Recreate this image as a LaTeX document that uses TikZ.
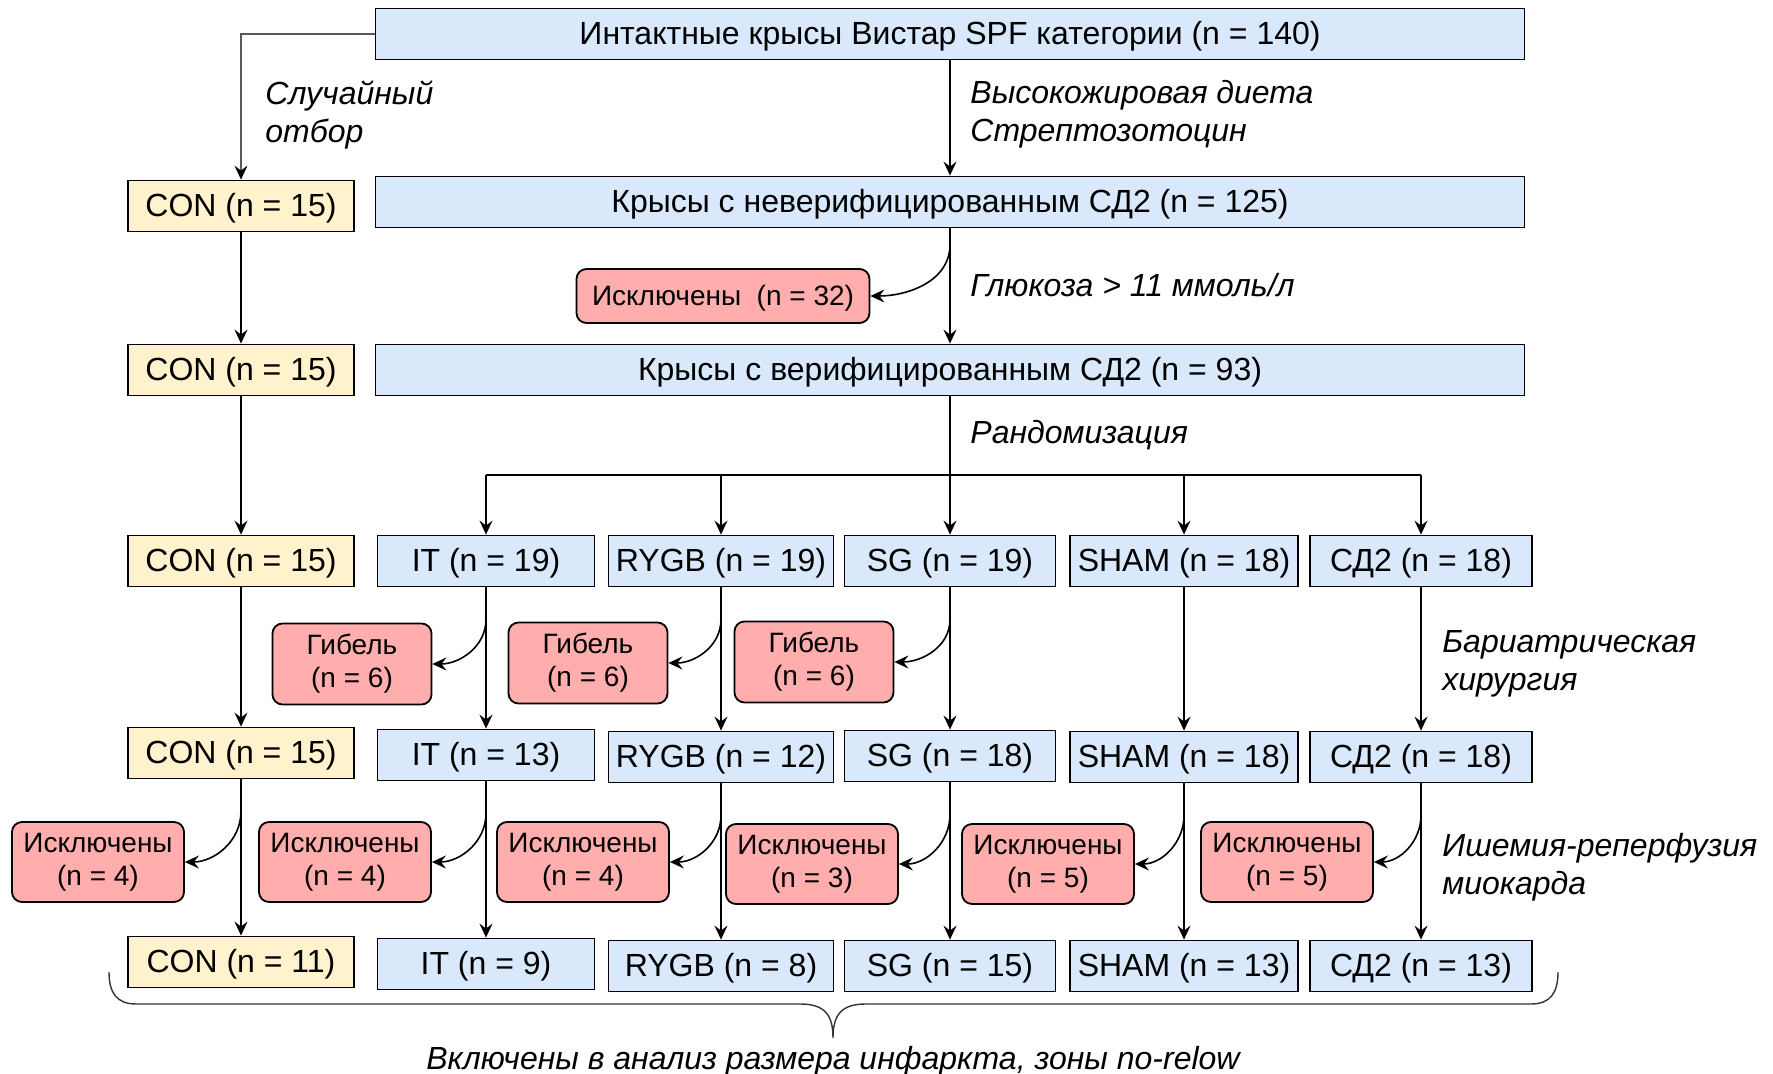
\documentclass[tikz,border=0pt]{standalone}
\usepackage{fontspec}
\setmainfont{Liberation Sans}
\usetikzlibrary{arrows.meta,calc}
\definecolor{bfill}{HTML}{DAE8FC}
\definecolor{yfill}{HTML}{FFF2CC}
\definecolor{rfill}{HTML}{FFADAD}
\begin{document}
\begin{tikzpicture}[x=0.5pt,y=-0.5pt,
  base/.style={draw=black, line width=0.9pt, inner sep=0pt, align=center},
  bbox/.style={base, fill=bfill, minimum height=25.5pt, text height=13.5pt, text depth=3pt, font=\fontsize{16}{19}\selectfont},
  ybox/.style={base, fill=yfill, minimum height=25.5pt, minimum width=113pt, text height=13.5pt, text depth=3pt, font=\fontsize{16}{19}\selectfont},
  rbox/.style={base, fill=rfill, rounded corners=5pt, font=\fontsize{14}{16.5}\selectfont},
  ebox/.style={rbox, minimum width=86pt, minimum height=40pt},
  gbox/.style={rbox, minimum width=79.5pt, minimum height=40.5pt},
  arr/.style={line width=0.8pt, -{Stealth[length=7pt,width=6.5pt,inset=2.5pt]}},
  ln/.style={line width=0.8pt},
  lbl/.style={anchor=west, inner sep=0pt, align=left, font=\fontsize{16}{19}\selectfont\itshape}
]
\useasboundingbox (0,0) rectangle (1773,1074);

% top row
\node[bbox, minimum width=574.5pt] (top) at (950,34) {Интактные крысы Вистар SPF категории (n = 140)};
% row 2
\node[ybox] (con2) at (241,206) {CON (n = 15)};
\node[bbox, minimum width=574.5pt] (b2) at (950,202) {Крысы с неверифицированным СД2 (n = 125)};
\node[rbox, minimum width=146.5pt, minimum height=27pt, text height=12pt, text depth=2.6pt] (ex32) at (723,296) {Исключены\ \ (n = 32)};
% row 3
\node[ybox] (con3) at (241,370) {CON (n = 15)};
\node[bbox, minimum width=574.5pt] (b3) at (950,370) {Крысы с верифицированным СД2 (n = 93)};
% row 4
\node[ybox] (con4) at (241,561) {CON (n = 15)};
\node[bbox, minimum width=108.5pt] (it4) at (486,561) {IT (n = 19)};
\node[bbox, minimum width=112.5pt] (rygb4) at (721,561) {RYGB (n = 19)};
\node[bbox, minimum width=105.5pt] (sg4) at (950,561) {SG (n = 19)};
\node[bbox, minimum width=114pt] (sham4) at (1184,561) {SHAM (n = 18)};
\node[bbox, minimum width=111pt] (sd4) at (1421,561) {СД2 (n = 18)};
% deaths
\node[gbox] (g1) at (352,664) {Гибель\\(n = 6)};
\node[gbox] (g2) at (588,663) {Гибель\\(n = 6)};
\node[gbox] (g3) at (814,662) {Гибель\\(n = 6)};
% row 5
\node[ybox] (con5) at (241,753) {CON (n = 15)};
\node[bbox, minimum width=108.5pt] (it5) at (486,755) {IT (n = 13)};
\node[bbox, minimum width=112.5pt] (rygb5) at (721,757) {RYGB (n = 12)};
\node[bbox, minimum width=105.5pt] (sg5) at (950,756) {SG (n = 18)};
\node[bbox, minimum width=114pt] (sham5) at (1184,757) {SHAM (n = 18)};
\node[bbox, minimum width=111pt] (sd5) at (1421,757) {СД2 (n = 18)};
% exclusions
\node[ebox] (e0) at (98,862) {Исключены\\(n = 4)};
\node[ebox] (e1) at (345,862) {Исключены\\(n = 4)};
\node[ebox] (e2) at (583,862) {Исключены\\(n = 4)};
\node[ebox] (e3) at (812,864) {Исключены\\(n = 3)};
\node[ebox] (e4) at (1048,864) {Исключены\\(n = 5)};
\node[ebox] (e5) at (1287,862) {Исключены\\(n = 5)};
% row 6
\node[ybox] (con6) at (241,962) {CON (n = 11)};
\node[bbox, minimum width=108.5pt] (it6) at (486,964) {IT (n = 9)};
\node[bbox, minimum width=112.5pt] (rygb6) at (721,966) {RYGB (n = 8)};
\node[bbox, minimum width=105.5pt] (sg6) at (950,966) {SG (n = 15)};
\node[bbox, minimum width=114pt] (sham6) at (1184,966) {SHAM (n = 13)};
\node[bbox, minimum width=111pt] (sd6) at (1421,966) {СД2 (n = 13)};

% labels
\node[lbl] (l1) at (265,115) {Случайный\\отбор};
\node[lbl] (l2) at (970,114) {Высокожировая диета\\Стрептозотоцин};
\node[lbl] (l3) at (970,285) {Глюкоза > 11 ммоль/л};
\node[lbl] (l4) at (970,435) {Рандомизация};
\node[lbl] (l5) at (1442,664) {Бариатрическая\\хирургия};
\node[lbl] (l6) at (1442,867) {Ишемия-реперфузия\\миокарда};
\node[inner sep=0pt, font=\fontsize{16}{19}\selectfont\itshape] (l7) at (833,1061) {Включены в анализ размера инфаркта, зоны no-relow};

% connectors
\draw[line width=0.6pt, draw=black!65, -{Stealth[length=7pt,width=6.5pt,inset=2.5pt,black]}] (top.west) -| (con2.north);
\draw[arr] (top.south) -- (b2.north);
\draw[arr] (b2.south) -- (b3.north);
\draw[arr] ($(b2.south)+(0,16)$) to[out=-90,in=0] (ex32.east);

\draw[arr] (con2) -- (con3);
\draw[arr] (con3) -- (con4);
\draw[arr] (con4) -- (con5);
\draw[arr] (con5) -- (con6);

\coordinate (rj) at (950,475);
\draw[ln] (b3.south) -- (rj);
\draw[ln] (it4.north |- rj) -- (sd4.north |- rj);
\foreach \n in {it4,rygb4,sg4,sham4,sd4}{
  \draw[arr] (\n.north |- rj) -- (\n.north);
}

\foreach \a/\b in {it4/it5,rygb4/rygb5,sg4/sg5,sham4/sham5,sd4/sd5,it5/it6,rygb5/rygb6,sg5/sg6,sham5/sham6,sd5/sd6}{
  \draw[arr] (\a.south) -- (\a.south |- \b.north);
}

\draw[arr] ($(it4.south)+(0,32)$) to[out=-90,in=0] (g1.east);
\draw[arr] ($(rygb4.south)+(0,32)$) to[out=-90,in=0] (g2.east);
\draw[arr] ($(sg4.south)+(0,32)$) to[out=-90,in=0] (g3.east);

\draw[arr] ($(con5.south)+(0,32)$) to[out=-90,in=0] (e0.east);
\draw[arr] ($(it5.south)+(0,32)$) to[out=-90,in=0] (e1.east);
\draw[arr] ($(rygb5.south)+(0,32)$) to[out=-90,in=0] (e2.east);
\draw[arr] ($(sg5.south)+(0,32)$) to[out=-90,in=0] (e3.east);
\draw[arr] ($(sham5.south)+(0,32)$) to[out=-90,in=0] (e4.east);
\draw[arr] ($(sd5.south)+(0,32)$) to[out=-90,in=0] (e5.east);

% brace
\coordinate (bl) at (109,972);
\coordinate (bt) at (833,1038);
\coordinate (br) at (1558,972);
\draw[line width=0.7pt, draw=black!80] (bl) .. controls (109,992) and (116,1004) .. (136,1004) -- (800,1004)
  .. controls (824,1004) and (833,1014) .. (bt)
  .. controls (833,1014) and (842,1004) .. (866,1004) -- (1531,1004)
  .. controls (1551,1004) and (1558,992) .. (br);
\end{tikzpicture}
\end{document}
